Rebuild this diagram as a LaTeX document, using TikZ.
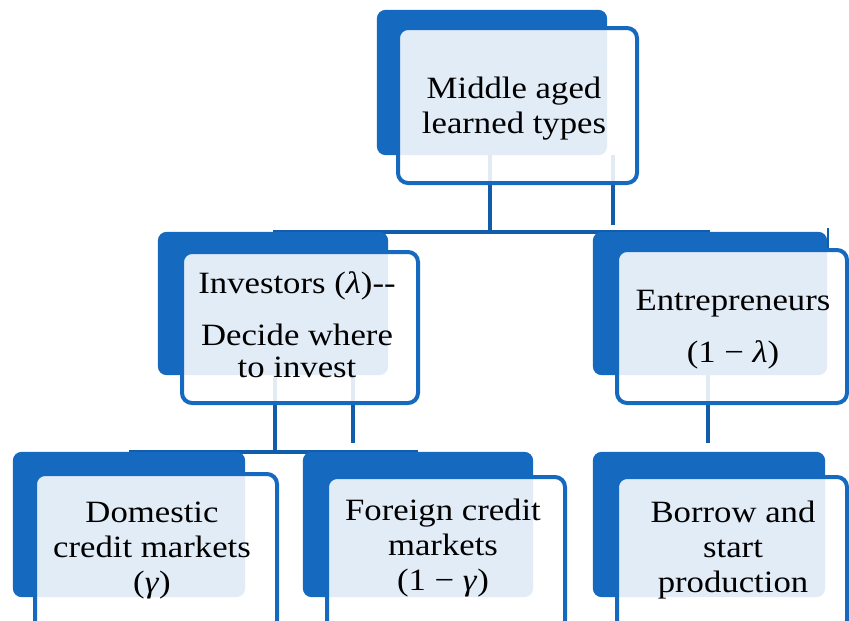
\documentclass[tikz,border=0pt]{standalone}
\usepackage{fontspec}
\setmainfont{Liberation Serif}[FakeStretch=1.12]
\definecolor{dblue}{RGB}{21,106,192}
\definecolor{cblue}{RGB}{18,92,172}
\begin{document}
\begin{tikzpicture}[x=1pt,y=-1pt,
  backbox/.style={minimum width=230pt,minimum height=145pt,inner sep=0pt},
  frontbox/.style={fill=white,fill opacity=0.88,draw=dblue,draw opacity=1,line width=4pt,rounded corners=10pt,inner sep=0pt},
  label/.style={anchor=base,align=center,inner sep=0pt,text=black,
    font=\fontsize{31pt}{35pt}\selectfont},
  conn/.style={draw=cblue,line width=4pt},
  thinconn/.style={draw=cblue,line width=1.5pt}]
\useasboundingbox[fill=white] (0,0) rectangle (849,621);
% coordinates for junctions
\coordinate (j1) at (490,233);
\coordinate (j1r) at (613,225);
\coordinate (j2) at (275,453);
\coordinate (j2r) at (353,443);
\coordinate (j3) at (708,443);
\coordinate (tick1) at (828,228);
\coordinate (tick2) at (828,250);
% back boxes (named)
\path (492,82.5) node[backbox,minimum width=230pt,minimum height=145pt] (b1) {};
\path (273,303.5) node[backbox,minimum width=230pt,minimum height=143pt] (b2) {};
\path (710,303.5) node[backbox,minimum width=234pt,minimum height=143pt] (b3) {};
\path (129,524.5) node[backbox,minimum width=232pt,minimum height=145pt] (b4) {};
\path (418,524.5) node[backbox,minimum width=230pt,minimum height=145pt] (b5) {};
\path (709,524.5) node[backbox,minimum width=232pt,minimum height=145pt] (b6) {};
% connectors (behind boxes)
\draw[conn] (b1.south -| j1) -- (j1);
\draw[conn] (b2.north -| b2.center) -- (b3.north -| b3.center);
\draw[conn] (b1.south -| j1r) -- (j1r);
\draw[conn] (b2.south -| j2) -- (j2);
\draw[conn] (b4.north -| b4.center) -- (b5.north -| b5.center);
\draw[conn] (b2.south -| j2r) -- (j2r);
\draw[conn] (b3.south -| j3) -- (j3);
\draw[thinconn] (tick1) -- (tick2);
% back boxes drawn
\foreach \n in {b1,b2,b3,b4,b5,b6}{
  \fill[dblue,rounded corners=9pt] (\n.north west) rectangle (\n.south east);
}
% front boxes
\node[frontbox,minimum width=239pt,minimum height=155pt] (f1) at (517.5,105.5) {};
\node[frontbox,minimum width=236pt,minimum height=151pt] (f2) at (300,327.5) {};
\node[frontbox,minimum width=230pt,minimum height=153pt] (f3) at (732,326.5) {};
\node[frontbox,minimum width=242pt,minimum height=156pt] (f4) at (156,552) {};
\node[frontbox,minimum width=238pt,minimum height=153pt] (f5) at (446,553.5) {};
\node[frontbox,minimum width=230pt,minimum height=153pt] (f6) at (732,553.5) {};
% texts (anchor base = last line baseline)
\node[label] (t1) at (514,133) {Middle aged\\learned types};
\node[label] (t2) at (297,377) {Investors (\textit{λ})-{}-\\[17pt]Decide where\\[-3pt]to invest};
\node[label] (t3) at (733,362) {Entrepreneurs\\[17pt](1 − \textit{λ})};
\node[label] (t4) at (152,592) {Domestic\\credit markets\\(\textit{γ})};
\node[label] (t5) at (443,590) {Foreign credit\\markets\\(1 − \textit{γ})};
\node[label] (t6) at (733,592) {Borrow and\\start\\production};
\end{tikzpicture}
\end{document}
